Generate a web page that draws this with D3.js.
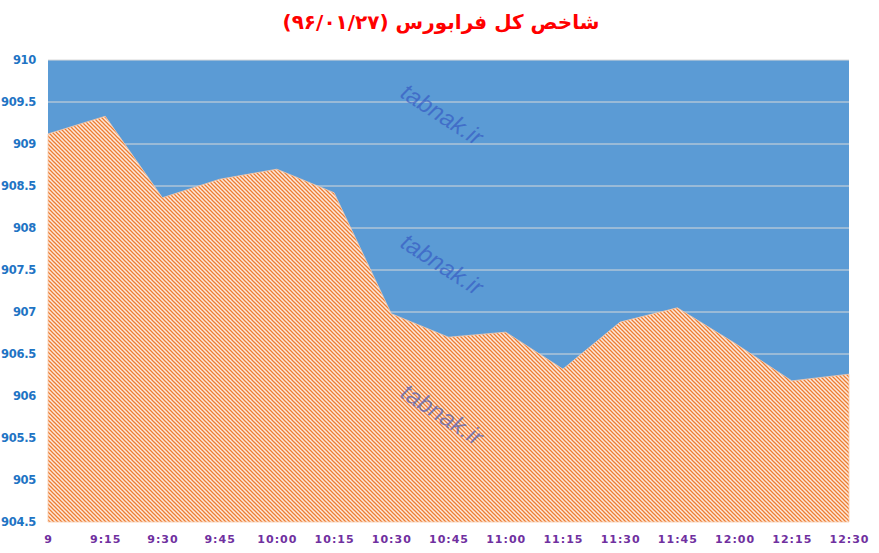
<!DOCTYPE html>
<html><head><meta charset="utf-8">
<script src="https://cdn.jsdelivr.net/npm/d3@7"></script>
<style>html,body{margin:0;padding:0;background:#fff;}</style>
</head><body>
<svg id="chart" width="879" height="553"></svg>
<script>
const categories = ["9","9:15","9:30","9:45","10:00","10:15","10:30","10:45","11:00","11:15","11:30","11:45","12:00","12:15","12:30"];
const values = [909.12,909.33,908.36,908.58,908.70,908.42,906.98,906.70,906.76,906.32,906.88,907.05,906.63,906.18,906.26];
const yTicks = [904.5,905,905.5,906,906.5,907,907.5,908,908.5,909,909.5,910];
const title = "شاخص کل فرابورس (۹۶/۰۱/۲۷)";
const watermark = "tabnak.ir";

const svg = d3.select("#chart");
const L = 48, R = 849, T = 60, B = 522;
const x = d3.scalePoint().domain(categories).range([L, R]);
const y = d3.scaleLinear().domain([904.5, 910]).range([B, T]);

const defs = svg.append("defs");
const pat = defs.append("pattern").attr("id","hatch").attr("patternUnits","userSpaceOnUse")
  .attr("width",4).attr("height",4);
pat.append("rect").attr("width",4).attr("height",4).attr("fill","#fde9dc");
pat.append("path").attr("d","M-1,-1L5,5M-1,3L1,5M3,-1L5,1")
  .attr("stroke","#ed7d31").attr("stroke-width",1.25);

svg.append("rect").attr("x",L).attr("y",T).attr("width",R-L).attr("height",B-T).attr("fill","#5b9bd5");

svg.append("g").selectAll("line").data(yTicks.filter(d=>d>904.5)).join("line")
  .attr("x1",L).attr("x2",R).attr("y1",d=>y(d)).attr("y2",d=>y(d))
  .attr("stroke","#d9d9d9").attr("stroke-width",1);

const area = d3.area().x((d,i)=>x(categories[i])).y0(y(904.5)).y1(d=>y(d));
svg.append("path").datum(values).attr("d",area).attr("fill","url(#hatch)")
  .attr("stroke","#f8cbad").attr("stroke-width",0.8);

// watermarks
[116,266,416].forEach(cy=>{
  svg.append("text").attr("transform",`translate(441,${cy}) rotate(33)`)
    .attr("text-anchor","middle").attr("dominant-baseline","middle")
    .attr("font-family","Liberation Sans, Arial, sans-serif").attr("font-style","italic")
    .attr("font-size",24).attr("fill","#3050c0").attr("fill-opacity",0.6)
    .text(watermark);
});

// y axis
const yAxis = d3.axisLeft(y).tickValues(yTicks).tickSize(0).tickPadding(0).tickFormat(d=>d3.format("")(d));
const gy = svg.append("g").attr("transform",`translate(36,0)`).call(yAxis);
gy.select(".domain").remove();
gy.selectAll("text").attr("font-family","DejaVu Sans, sans-serif").attr("font-weight","bold")
  .attr("font-size",11.5).attr("letter-spacing","-0.3px").attr("fill","#1f74c4");

// x axis
const xAxis = d3.axisBottom(x).tickSize(0).tickPadding(0);
const gx = svg.append("g").attr("transform",`translate(0,535)`).call(xAxis);
gx.select(".domain").remove();
gx.selectAll("text").attr("font-family","DejaVu Sans, sans-serif").attr("font-weight","bold")
  .attr("font-size",11).attr("fill","#7030a0").attr("letter-spacing","1px");

// title
svg.append("text").attr("x",441).attr("y",29).attr("text-anchor","middle")
  .attr("direction","rtl")
  .attr("font-family","DejaVu Sans, sans-serif").attr("font-weight","bold")
  .attr("font-size",20).attr("fill","#ff0000").attr("letter-spacing","1px").text(title);
</script>
</body></html>
